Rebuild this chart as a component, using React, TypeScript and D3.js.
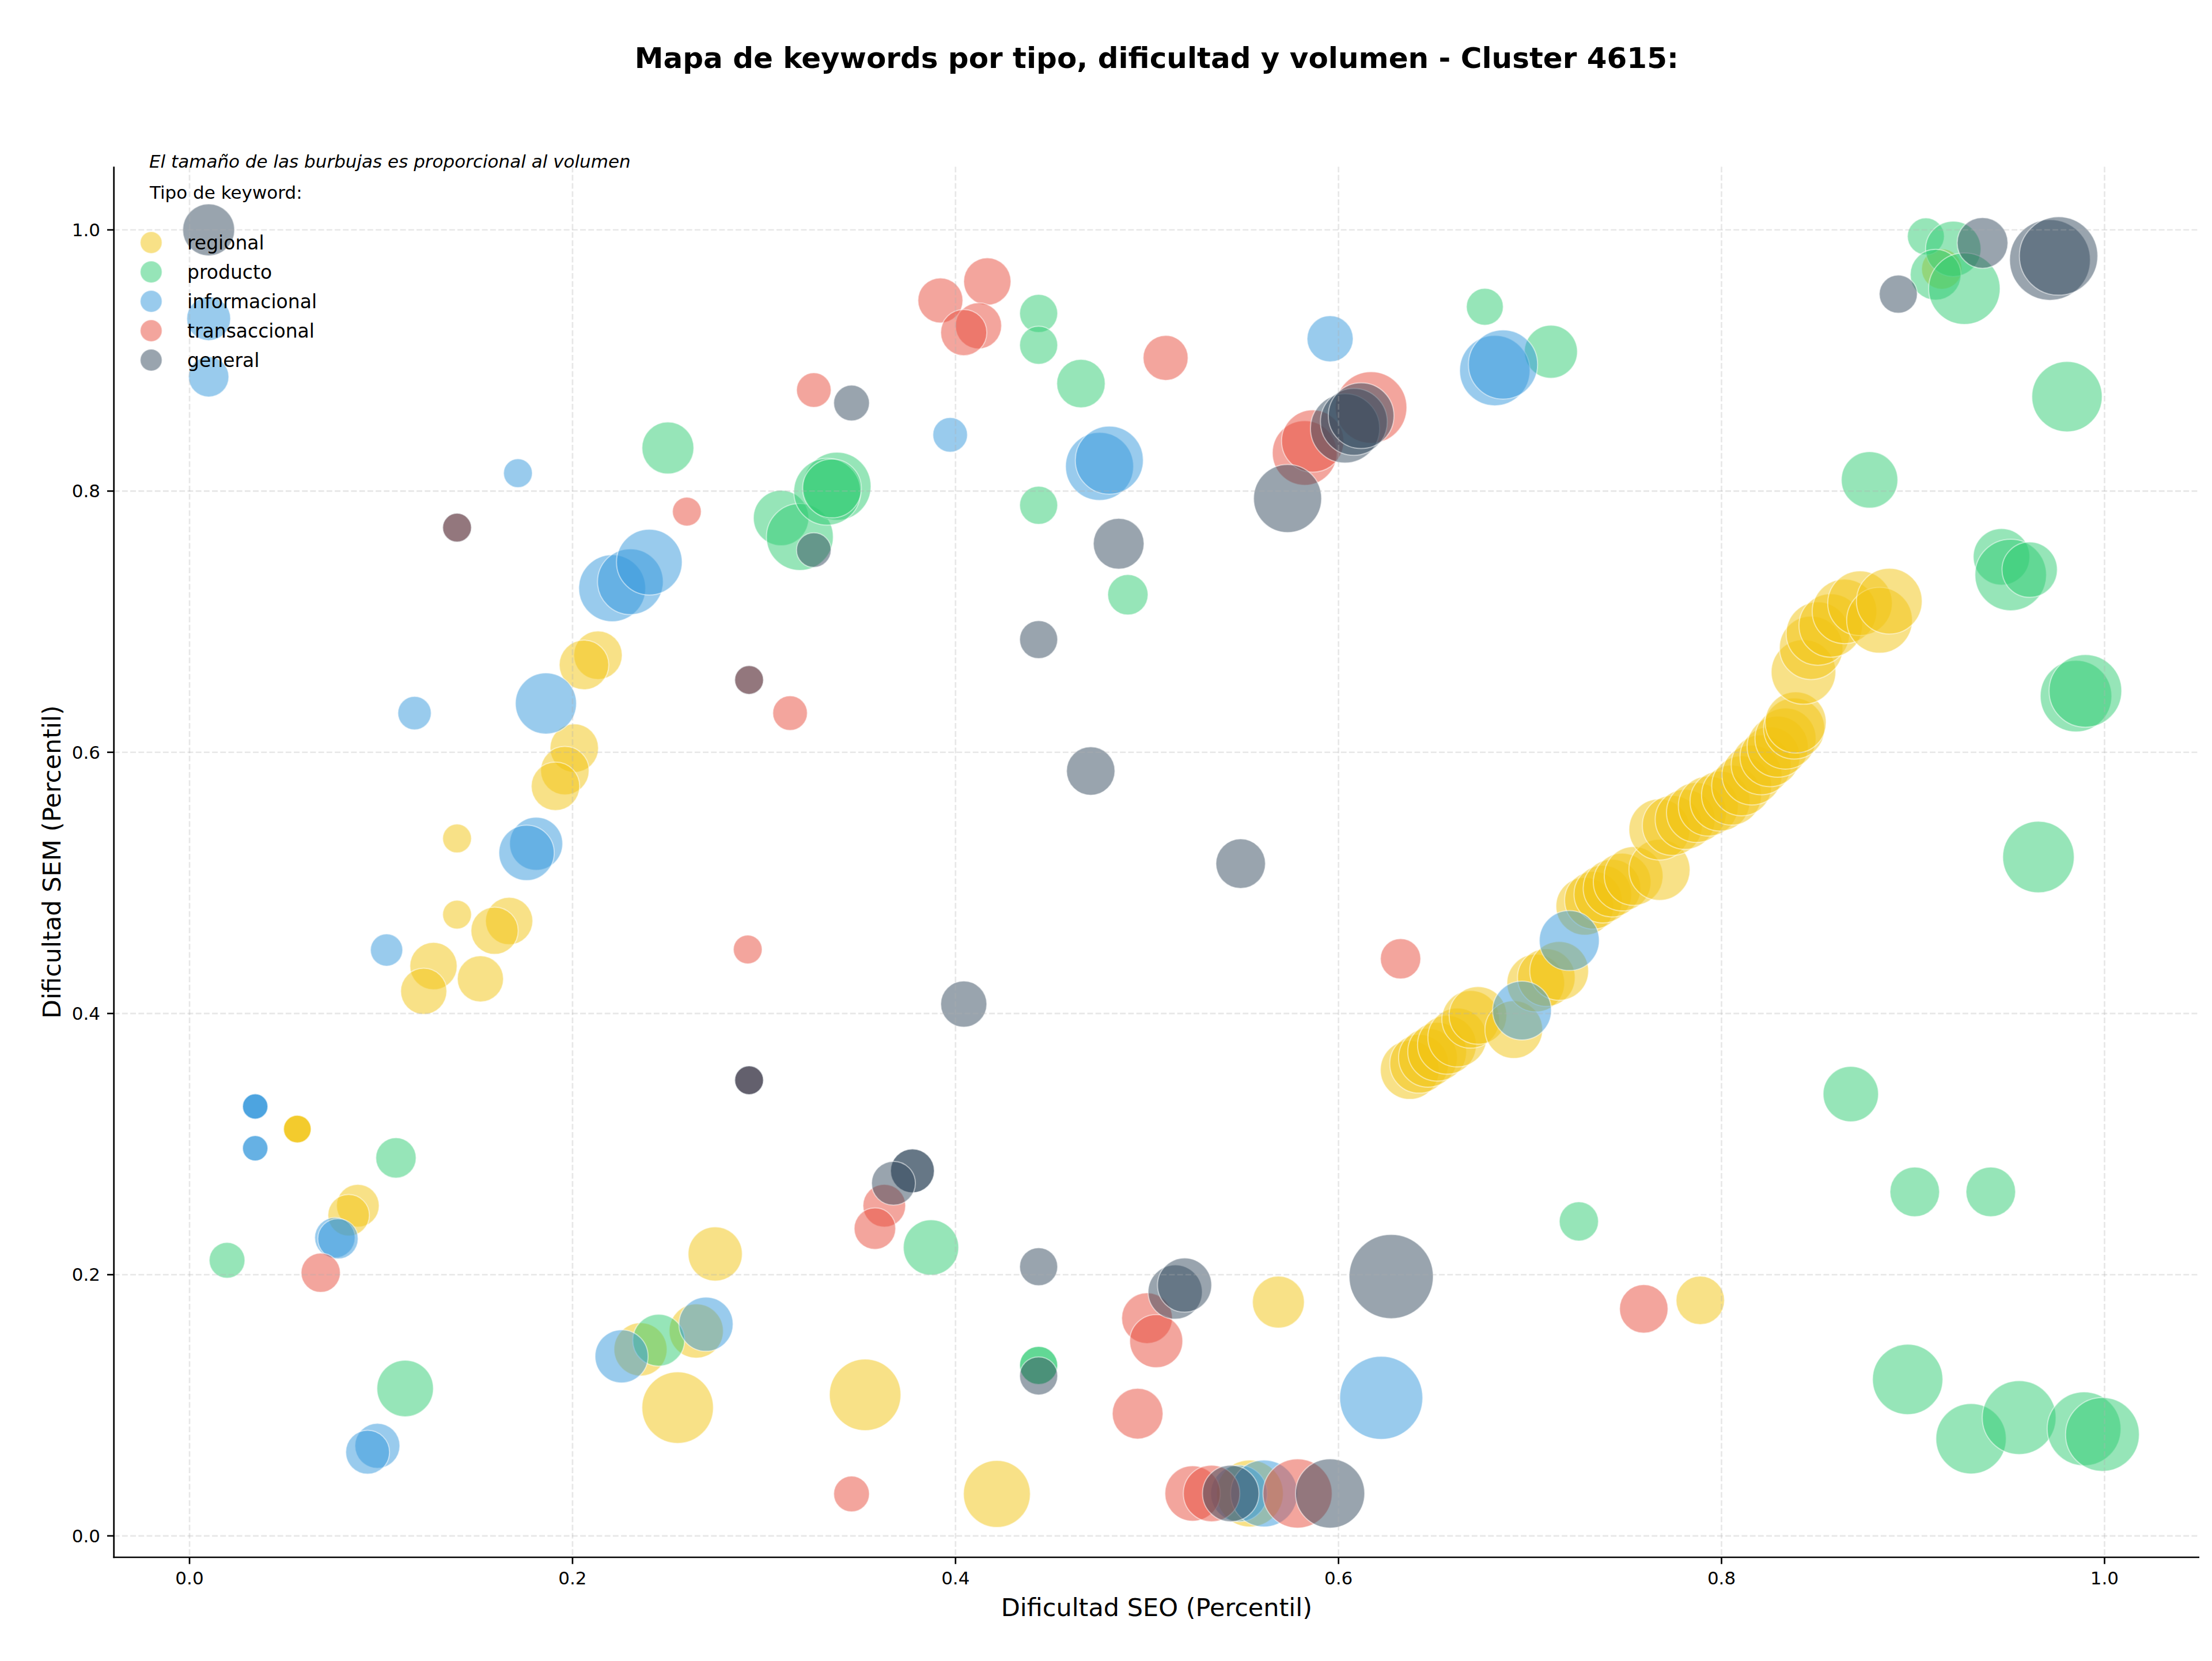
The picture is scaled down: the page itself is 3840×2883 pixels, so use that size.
import React from "react";
import * as d3 from "d3";

// [dificultad SEO, dificultad SEM, volumen]
type Kw = [number, number, number];

const tipos = ["regional", "producto", "informacional", "transaccional", "general"];
const colores = ["#f1c40f", "#2ecc71", "#3498db", "#e74c3c", "#34495e"];

const regional: Kw[] = [
  [0.915, 0.97, 306], [0.2133, 0.6743, 441], [0.206, 0.6669, 462], [0.2009, 0.6032, 441],
  [0.196, 0.586, 441], [0.1911, 0.574, 441], [0.1397, 0.534, 156], [0.1397, 0.4757, 156],
  [0.1669, 0.4708, 420], [0.1593, 0.4634, 420], [0.1274, 0.4363, 420], [0.1223, 0.417, 400],
  [0.1519, 0.4265, 400], [0.0563, 0.3115, 144], [0.0563, 0.3115, 144], [0.0563, 0.3115, 144],
  [0.0879, 0.2528, 342], [0.0831, 0.2455, 324], [0.2745, 0.2159, 552], [0.2355, 0.1428, 529],
  [0.2646, 0.1569, 552], [0.2549, 0.0982, 961], [0.3528, 0.108, 961], [0.4216, 0.0321, 841],
  [0.5686, 0.179, 506], [0.5537, 0.0325, 841], [0.7889, 0.1803, 441],
  [0.6372, 0.3568, 650], [0.6421, 0.3615, 650], [0.6467, 0.3661, 650], [0.6515, 0.3707, 650],
  [0.6566, 0.376, 650], [0.662, 0.3816, 650], [0.669, 0.3955, 625], [0.6728, 0.3985, 625],
  [0.6915, 0.3877, 625], [0.703, 0.4233, 625], [0.7085, 0.4275, 625], [0.7152, 0.4326, 650],
  [0.7286, 0.4821, 625], [0.7331, 0.4867, 625], [0.738, 0.4914, 625], [0.7428, 0.496, 625],
  [0.7481, 0.5006, 625], [0.7541, 0.5053, 650], [0.7676, 0.51, 702], [0.7676, 0.5409, 702],
  [0.7743, 0.544, 676], [0.781, 0.5486, 676], [0.7869, 0.5539, 676], [0.7931, 0.5588, 676],
  [0.7992, 0.5626, 676], [0.8052, 0.5672, 676], [0.8105, 0.5743, 676], [0.8159, 0.5826, 676],
  [0.8207, 0.5904, 676], [0.8253, 0.5966, 676], [0.8293, 0.6043, 702], [0.8334, 0.6105, 702],
  [0.8379, 0.6182, 702], [0.8387, 0.6228, 702], [0.8428, 0.6615, 784], [0.8468, 0.68, 756],
  [0.8503, 0.6909, 756], [0.857, 0.6971, 756], [0.8642, 0.7079, 784], [0.8723, 0.7141, 784],
  [0.8825, 0.7011, 812], [0.8876, 0.7157, 812],
];

const producto: Kw[] = [
  [0.2498, 0.833, 506], [0.1078, 0.2894, 306], [0.0196, 0.211, 240], [0.1126, 0.1129, 600],
  [0.245, 0.1498, 506], [0.4434, 0.936, 272], [0.4434, 0.9117, 272], [0.4655, 0.8823, 441],
  [0.4434, 0.7891, 272], [0.49, 0.7206, 306], [0.3089, 0.7794, 576], [0.3187, 0.7649, 841],
  [0.3381, 0.8037, 870], [0.333, 0.7995, 841], [0.3355, 0.802, 650], [0.3872, 0.2208, 576],
  [0.4434, 0.1305, 272], [0.4434, 0.1305, 272], [0.6764, 0.9411, 256], [0.7109, 0.9067, 529],
  [0.9067, 0.995, 256], [0.921, 0.9855, 576], [0.9118, 0.9657, 484], [0.9268, 0.955, 961],
  [0.9804, 0.8723, 930], [0.8773, 0.8086, 600], [0.9462, 0.7497, 600], [0.951, 0.7358, 961],
  [0.9609, 0.7398, 576], [0.9851, 0.643, 961], [0.99, 0.647, 992], [0.9655, 0.5198, 961],
  [0.8675, 0.3383, 576], [0.7255, 0.2408, 289], [0.9009, 0.2634, 462], [0.9406, 0.2634, 462],
  [0.8972, 0.1198, 930], [0.9303, 0.0744, 930], [0.9554, 0.0906, 1024], [0.9893, 0.082, 1024],
  [0.9989, 0.0777, 1024],
];

const informacional: Kw[] = [
  [0.01, 0.932, 361], [0.01, 0.8875, 306], [0.1715, 0.8137, 156], [0.2207, 0.7256, 841],
  [0.2302, 0.7306, 812], [0.2401, 0.7456, 812], [0.1175, 0.63, 210], [0.1861, 0.6374, 702],
  [0.181, 0.53, 529], [0.176, 0.523, 576], [0.1029, 0.4486, 196], [0.0343, 0.3288, 121],
  [0.0343, 0.3288, 121], [0.0343, 0.3288, 121], [0.0343, 0.2968, 121], [0.0343, 0.2968, 121],
  [0.0759, 0.2283, 306], [0.0775, 0.2275, 306], [0.0981, 0.069, 380], [0.093, 0.0641, 361],
  [0.2256, 0.1375, 529], [0.2697, 0.1621, 552], [0.3972, 0.8431, 225], [0.4752, 0.8189, 870],
  [0.4803, 0.8237, 870], [0.5956, 0.9166, 400], [0.6816, 0.8923, 930], [0.6859, 0.8969, 900],
  [0.7205, 0.4558, 676], [0.6958, 0.4023, 650], [0.6223, 0.1057, 1296], [0.548, 0.0325, 600],
  [0.5611, 0.0325, 841],
];

const transaccional: Kw[] = [
  [0.1397, 0.772, 156], [0.2597, 0.7843, 156], [0.2922, 0.6554, 156], [0.2915, 0.449, 156],
  [0.2922, 0.3489, 156], [0.0685, 0.2015, 289], [0.3921, 0.946, 380], [0.4166, 0.9605, 420],
  [0.412, 0.9266, 400], [0.4043, 0.9214, 400], [0.5097, 0.902, 380], [0.326, 0.8774, 225],
  [0.3136, 0.63, 225], [0.5823, 0.8292, 784], [0.5865, 0.8383, 729], [0.617, 0.864, 961],
  [0.6324, 0.4419, 306], [0.3628, 0.2528, 342], [0.3579, 0.2353, 324], [0.3457, 0.0321, 240],
  [0.5, 0.1667, 484], [0.5048, 0.1491, 529], [0.4951, 0.0936, 484], [0.7594, 0.1738, 441],
  [0.5238, 0.0325, 576], [0.5337, 0.0325, 600], [0.5786, 0.0325, 900],
];

const general: Kw[] = [
  [0.01, 1.0, 506], [0.1397, 0.772, 156], [0.2922, 0.6554, 156], [0.2922, 0.3489, 156],
  [0.2922, 0.3489, 156], [0.3457, 0.8674, 240], [0.326, 0.7548, 225], [0.4852, 0.7597, 484],
  [0.4434, 0.6863, 272], [0.4706, 0.5857, 441], [0.5489, 0.5147, 462], [0.4043, 0.4072, 400],
  [0.3775, 0.2795, 361], [0.3775, 0.2795, 361], [0.3676, 0.27, 361], [0.4434, 0.2061, 272],
  [0.4434, 0.1225, 272], [0.5147, 0.1867, 552], [0.5196, 0.192, 552], [0.6275, 0.1986, 1332],
  [0.5734, 0.7943, 870], [0.6034, 0.848, 900], [0.608, 0.853, 841], [0.6118, 0.8577, 812],
  [0.9363, 0.99, 484], [0.8923, 0.9508, 272], [0.9715, 0.977, 1225], [0.976, 0.98, 1156],
  [0.5437, 0.0325, 600], [0.5956, 0.0325, 900],
];

const xTicks = [0.0, 0.2, 0.4, 0.6, 0.8, 1.0];
const yTicks = [0.0, 0.2, 0.4, 0.6, 0.8, 1.0];

const App: React.FC = () => {
  const W = 3840;
  const H = 2883;
  const left = 197.7, right = 3818, top = 289.3, bottom = 2703;

  const x = d3.scaleLinear().domain([-0.0395, 1.0495]).range([left, right]);
  const y = d3.scaleLinear().domain([-0.0164, 1.0484]).range([bottom, top]);
  const r = d3.scaleSqrt().domain([0, 1000]).range([0, 63.25]);
  const fmt = d3.format(".1f");
  const series = [regional, producto, informacional, transaccional, general];
  const cx = (left + right) / 2;

  return (
    <svg
      width={W}
      height={H}
      style={{ position: "absolute", left: 0, top: 0, background: "#fff" }}
      fontFamily="DejaVu Sans"
    >
      <rect width={W} height={H} fill="#fff" />
      <defs>
        <clipPath id="plot">
          <rect x={left} y={top} width={right - left} height={bottom - top} />
        </clipPath>
      </defs>

      <text x={cx} y={118} fontSize={50} fontWeight="bold" textAnchor="middle">
        Mapa de keywords por tipo, dificultad y volumen - Cluster 4615:
      </text>

      <g clipPath="url(#plot)">
        {series.map((data, i) => (
          <g key={tipos[i]}>
            {data.map((d, j) => (
              <circle
                key={j}
                cx={x(d[0])}
                cy={y(d[1])}
                r={r(d[2])}
                fill={colores[i]}
                fillOpacity={0.5}
                stroke="#fff"
                strokeOpacity={0.5}
                strokeWidth={2}
              />
            ))}
          </g>
        ))}
        {xTicks.map((t) => (
          <line key={"gx" + t} x1={x(t)} x2={x(t)} y1={top} y2={bottom}
            stroke="#b0b0b0" strokeOpacity={0.3} strokeWidth={2.67} strokeDasharray="9.9,4.3" />
        ))}
        {yTicks.map((t) => (
          <line key={"gy" + t} x1={left} x2={right} y1={y(t)} y2={y(t)}
            stroke="#b0b0b0" strokeOpacity={0.3} strokeWidth={2.67} strokeDasharray="9.9,4.3" />
        ))}
      </g>

      {/* ejes */}
      <line x1={left} x2={left} y1={top} y2={bottom + 1.3} stroke="#000" strokeWidth={2.67} />
      <line x1={left - 1.3} x2={right} y1={bottom} y2={bottom} stroke="#000" strokeWidth={2.67} />
      {xTicks.map((t) => (
        <g key={"tx" + t}>
          <line x1={x(t)} x2={x(t)} y1={bottom} y2={bottom + 11.7} stroke="#000" strokeWidth={2.67} />
          <text x={x(t)} y={2750} fontSize={31} textAnchor="middle">{fmt(t)}</text>
        </g>
      ))}
      {yTicks.map((t) => (
        <g key={"ty" + t}>
          <line x1={left - 11.7} x2={left} y1={y(t)} y2={y(t)} stroke="#000" strokeWidth={2.67} />
          <text x={174} y={y(t) + 11} fontSize={31} textAnchor="end">{fmt(t)}</text>
        </g>
      ))}

      <text x={cx} y={2805} fontSize={43} textAnchor="middle">Dificultad SEO (Percentil)</text>
      <text transform={`translate(105, ${(top + bottom) / 2}) rotate(-90)`} fontSize={43} textAnchor="middle">
        Dificultad SEM (Percentil)
      </text>

      <text x={259} y={291} fontSize={31} fontStyle="italic">
        El tamaño de las burbujas es proporcional al volumen
      </text>

      {/* leyenda */}
      <text x={260} y={345} fontSize={31}>Tipo de keyword:</text>
      {tipos.map((t, i) => {
        const ly = 421 + i * 51;
        return (
          <g key={"lg" + t}>
            <circle cx={262.4} cy={ly} r={19} fill={colores[i]} fillOpacity={0.5}
              stroke="#fff" strokeOpacity={0.5} strokeWidth={2} />
            <text x={325} y={ly + 12} fontSize={33}>{t}</text>
          </g>
        );
      })}
    </svg>
  );
};

export default App;
